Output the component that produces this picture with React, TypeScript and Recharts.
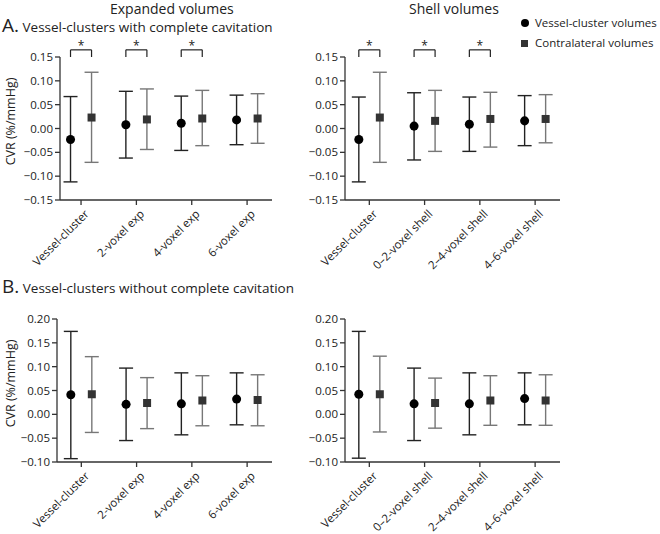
import React from 'react';
import { ScatterChart, Scatter, XAxis, YAxis, ZAxis, ErrorBar, ReferenceLine, Label } from 'recharts';

const expandedCats = ['Vessel-cluster', '2-voxel exp', '4-voxel exp', '6-voxel exp'];
const shellCats = ['Vessel-cluster', '0–2-voxel shell', '2–4-voxel shell', '4–6-voxel shell'];

// A. with complete cavitation — expanded volumes
const aExpVessel = [-0.023, 0.008, 0.011, 0.018];
const aExpVesselLow = [-0.112, -0.062, -0.046, -0.034];
const aExpVesselHigh = [0.067, 0.078, 0.068, 0.070];
const aExpContra = [0.023, 0.019, 0.021, 0.021];
const aExpContraLow = [-0.071, -0.044, -0.036, -0.031];
const aExpContraHigh = [0.118, 0.083, 0.080, 0.073];

// A. shell volumes
const aShVessel = [-0.023, 0.005, 0.009, 0.016];
const aShVesselLow = [-0.112, -0.066, -0.048, -0.036];
const aShVesselHigh = [0.066, 0.075, 0.066, 0.069];
const aShContra = [0.023, 0.016, 0.020, 0.020];
const aShContraLow = [-0.071, -0.048, -0.039, -0.030];
const aShContraHigh = [0.118, 0.080, 0.076, 0.071];

// B. without complete cavitation — expanded volumes
const bExpVessel = [0.041, 0.021, 0.022, 0.032];
const bExpVesselLow = [-0.093, -0.055, -0.043, -0.022];
const bExpVesselHigh = [0.174, 0.097, 0.087, 0.087];
const bExpContra = [0.042, 0.024, 0.029, 0.030];
const bExpContraLow = [-0.038, -0.030, -0.024, -0.024];
const bExpContraHigh = [0.121, 0.077, 0.081, 0.083];

// B. shell volumes
const bShVessel = [0.042, 0.022, 0.022, 0.033];
const bShVesselLow = [-0.092, -0.055, -0.043, -0.022];
const bShVesselHigh = [0.174, 0.097, 0.087, 0.087];
const bShContra = [0.042, 0.024, 0.029, 0.029];
const bShContraLow = [-0.037, -0.029, -0.023, -0.023];
const bShContraHigh = [0.122, 0.076, 0.081, 0.083];

const significant = [true, true, true, false];

const ticksA = [-0.15, -0.1, -0.05, 0, 0.05, 0.1, 0.15];
const ticksB = [-0.1, -0.05, 0, 0.05, 0.1, 0.15, 0.2];

const FONT = '"Open Sans", sans-serif';
const OFF = 0.19;

const build = (mean: number[], low: number[], high: number[], shift: number) =>
  mean.map((m, i) => ({ x: i + shift, y: m, err: [m - low[i], high[i] - m] }));

const fmt = (v: number) => (v < 0 ? '−' + Math.abs(v).toFixed(2) : v.toFixed(2));

const AngledTick = ({ x, y, payload, cats }: any) => (
  <g transform={`translate(${x + 3},${y + 2})`}>
    <text x={0} y={0} dy={8} textAnchor="end" transform="rotate(-45)" fill="#222" fontSize={11.5} fontFamily={FONT}>
      {cats[payload.value]}
    </text>
  </g>
);

const YLabel = ({ viewBox }: any) => {
  const cx = viewBox.x + 15;
  const cy = viewBox.y + viewBox.height / 2 - 7;
  return (
    <text x={cx} y={cy} transform={`rotate(-90 ${cx} ${cy})`} textAnchor="middle" fill="#222" fontSize={12.5} fontFamily={FONT}>
      CVR (%/mmHg)
    </text>
  );
};

// plot area is always 143px tall; the rest of the height goes to the x axis
const Panel = ({ cats, vessel, contra, ticks, domain, yWidth, width, height, top, right, xDomain, showLabel, brackets }: any) => (
  <ScatterChart width={width} height={height} margin={{ top, right, left: 0, bottom: 0 }}>
    <XAxis
      type="number"
      dataKey="x"
      domain={xDomain}
      ticks={[0, 1, 2, 3]}
      height={height - top - 143}
      tick={<AngledTick cats={cats} />}
      tickSize={5}
      stroke="#333"
      strokeWidth={1.3}
      interval={0}
      allowDataOverflow
    />
    <YAxis
      type="number"
      dataKey="y"
      domain={domain}
      ticks={ticks}
      width={yWidth}
      tickFormatter={fmt}
      tick={{ fill: '#222', fontSize: 11.5, fontFamily: FONT }}
      tickSize={5}
      stroke="#333"
      strokeWidth={1.3}
      interval={0}
    >
      {showLabel && <Label content={<YLabel />} />}
    </YAxis>
    <ZAxis range={[55, 55]} />
    <Scatter data={vessel} shape="circle" fill="#000" isAnimationActive={false}>
      <ErrorBar dataKey="err" direction="y" width={7} stroke="#222" strokeWidth={1.4} />
    </Scatter>
    <Scatter data={contra} shape="square" fill="#333" isAnimationActive={false}>
      <ErrorBar dataKey="err" direction="y" width={7} stroke="#777" strokeWidth={1.4} />
    </Scatter>
    {brackets &&
      significant.map((s: boolean, i: number) =>
        s ? (
          <React.Fragment key={i}>
            <ReferenceLine
              segment={[{ x: i - OFF, y: 0.165 }, { x: i + OFF, y: 0.165 }]}
              stroke="#222"
              strokeWidth={1.2}
              ifOverflow="visible"
              label={{ value: '*', position: 'top', offset: 0, fill: '#222', fontSize: 12, fontFamily: FONT }}
            />
            <ReferenceLine segment={[{ x: i - OFF, y: 0.165 }, { x: i - OFF, y: 0.15 }]} stroke="#222" strokeWidth={1.2} ifOverflow="visible" />
            <ReferenceLine segment={[{ x: i + OFF, y: 0.165 }, { x: i + OFF, y: 0.15 }]} stroke="#222" strokeWidth={1.2} ifOverflow="visible" />
          </React.Fragment>
        ) : null
      )}
  </ScatterChart>
);

const txt: React.CSSProperties = { position: 'absolute', fontFamily: FONT, color: '#222', whiteSpace: 'nowrap' };

export default function App() {
  return (
    <div style={{ position: 'absolute', left: 0, top: 0, width: 660, height: 534, background: '#fff', overflow: 'hidden' }}>
      <div style={{ position: 'absolute', left: 0, top: 0 }}>
        <Panel
          cats={expandedCats}
          vessel={build(aExpVessel, aExpVesselLow, aExpVesselHigh, -OFF)}
          contra={build(aExpContra, aExpContraLow, aExpContraHigh, OFF)}
          ticks={ticksA}
          domain={[-0.15, 0.15]}
          yWidth={60}
          width={290}
          height={285}
          top={57}
          right={18}
          xDomain={[-0.38, 3.45]}
          showLabel
          brackets
        />
      </div>
      <div style={{ position: 'absolute', left: 285, top: 0 }}>
        <Panel
          cats={shellCats}
          vessel={build(aShVessel, aShVesselLow, aShVesselHigh, -OFF)}
          contra={build(aShContra, aShContraLow, aShContraHigh, OFF)}
          ticks={ticksA}
          domain={[-0.15, 0.15]}
          yWidth={60}
          width={300}
          height={285}
          top={57}
          right={25}
          xDomain={[-0.44, 3.45]}
          brackets
        />
      </div>
      <div style={{ position: 'absolute', left: 0, top: 270 }}>
        <Panel
          cats={expandedCats}
          vessel={build(bExpVessel, bExpVesselLow, bExpVesselHigh, -OFF)}
          contra={build(bExpContra, bExpContraLow, bExpContraHigh, OFF)}
          ticks={ticksB}
          domain={[-0.1, 0.2]}
          yWidth={57}
          width={290}
          height={264}
          top={49}
          right={18}
          xDomain={[-0.44, 3.45]}
          showLabel
        />
      </div>
      <div style={{ position: 'absolute', left: 285, top: 270 }}>
        <Panel
          cats={shellCats}
          vessel={build(bShVessel, bShVesselLow, bShVesselHigh, -OFF)}
          contra={build(bShContra, bShContraLow, bShContraHigh, OFF)}
          ticks={ticksB}
          domain={[-0.1, 0.2]}
          yWidth={60}
          width={300}
          height={264}
          top={49}
          right={25}
          xDomain={[-0.44, 3.45]}
        />
      </div>

      <div style={{ ...txt, left: 110, top: 0, fontSize: 14, lineHeight: '17px' }}>Expanded volumes</div>
      <div style={{ ...txt, left: 409, top: 0, fontSize: 14, lineHeight: '17px' }}>Shell volumes</div>
      <div style={{ ...txt, left: 2, top: 14, fontSize: 13.5, lineHeight: '22px' }}>
        <span style={{ fontSize: 19 }}>A.</span> Vessel-clusters with complete cavitation
      </div>
      <div style={{ ...txt, left: 2, top: 275, fontSize: 13.5, lineHeight: '22px' }}>
        <span style={{ fontSize: 19 }}>B.</span> Vessel-clusters without complete cavitation
      </div>

      <div style={{ ...txt, left: 521, top: 13, fontSize: 11.5, lineHeight: '20px' }}>
        <div>
          <span style={{ display: 'inline-block', width: 8, height: 8, borderRadius: 4, background: '#000', marginRight: 6 }} />
          Vessel-cluster volumes
        </div>
        <div>
          <span style={{ display: 'inline-block', width: 7, height: 7, background: '#333', marginRight: 7 }} />
          Contralateral volumes
        </div>
      </div>
    </div>
  );
}
